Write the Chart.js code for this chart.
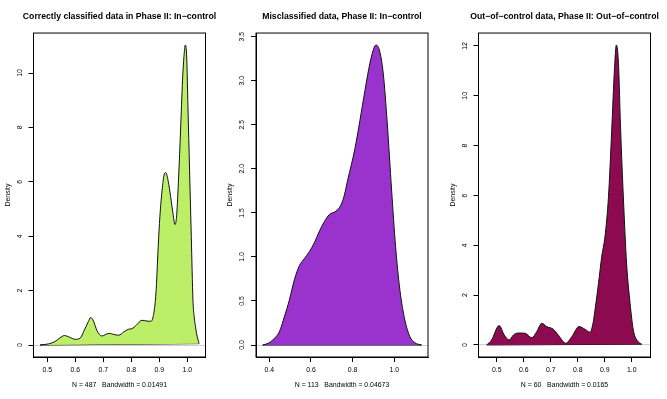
<!DOCTYPE html>
<html><head><meta charset="utf-8">
<script src="https://cdn.jsdelivr.net/npm/chart.js@4"></script>
<style>
html,body{margin:0;padding:0;background:#fff;width:667px;height:399px;overflow:hidden;position:relative}
canvas{position:absolute;top:0}
</style></head>
<body>
<canvas id="c1" width="239" height="399" style="left:0px"></canvas>
<canvas id="c2" width="240" height="399" style="left:222px"></canvas>
<canvas id="c3" width="239" height="399" style="left:445px"></canvas>
<script>
// ---- data ----
const TITLES = [
  "Correctly classified data in Phase II: In\u2212control",
  "Misclassified data, Phase II: In\u2212control",
  "Out\u2212of\u2212control data, Phase II: Out\u2212of\u2212control"
];
const SUBTITLES = [
  "N = 487   Bandwidth = 0.01491",
  "N = 113   Bandwidth = 0.04673",
  "N = 60   Bandwidth = 0.0165"
];
const Y_LABEL = "Density";

const P1_X = [0.474,0.504,0.527,0.545,0.561,0.579,0.599,0.617,0.632,0.646,0.655,0.665,0.677,0.695,0.707,0.721,0.737,0.755,0.773,0.790,0.802,0.818,0.838,0.856,0.870,0.879,0.886,0.890,0.896,0.902,0.910,0.917,0.923,0.930,0.938,0.948,0.956,0.962,0.969,0.976,0.983,0.988,0.993,0.998,1.0023,1.0081,1.0143,1.0202,1.0245,1.0286,1.0336,1.042];
const P1_D = [0.00,0.04,0.125,0.26,0.35,0.29,0.21,0.25,0.54,0.85,1.01,0.88,0.54,0.33,0.38,0.43,0.39,0.36,0.48,0.58,0.60,0.73,0.91,0.88,0.87,1.09,1.65,2.26,3.6,4.71,5.69,6.25,6.34,6.12,5.63,4.9,4.43,4.77,6.18,7.9,9.74,10.6,11.03,10.55,8.76,6.43,3.98,1.65,1.05,0.72,0.40,0.05];

const P2_X = [0.368,0.395,0.416,0.448,0.472,0.496,0.520,0.544,0.568,0.592,0.616,0.640,0.664,0.688,0.720,0.744,0.760,0.776,0.811,0.835,0.859,0.883,0.902,0.912,0.928,0.947,0.966,0.987,1.006,1.027,1.051,1.075,1.099,1.131];
const P2_D = [0.0,0.02,0.057,0.15,0.32,0.51,0.74,0.90,0.98,1.06,1.16,1.29,1.40,1.48,1.52,1.59,1.70,1.87,2.23,2.55,2.89,3.20,3.37,3.405,3.35,3.08,2.52,1.76,1.12,0.62,0.28,0.095,0.026,0.0];

const P3_X = [0.463,0.481,0.509,0.528,0.546,0.562,0.580,0.605,0.630,0.648,0.667,0.685,0.710,0.728,0.756,0.778,0.805,0.827,0.846,0.858,0.864,0.877,0.889,0.901,0.914,0.926,0.936,0.943,0.951,0.959,0.969,0.981,0.994,1.006,1.019,1.037];
const P3_D = [0.0,0.2,0.78,0.40,0.2,0.4,0.48,0.47,0.29,0.53,0.87,0.74,0.63,0.4,0.07,0.33,0.74,0.63,0.51,0.95,1.40,2.47,3.55,4.35,5.95,8.63,11.04,12.04,11.3,8.63,5.95,3.28,1.67,0.6,0.2,0.03];

const P1_XTICKS = [0.5,0.6,0.7,0.8,0.9,1.0];
const P1_YTICKS = [0,2,4,6,8,10];
const P2_XTICKS = [0.4,0.6,0.8,1.0];
const P2_YTICKS = [0,0.5,1.0,1.5,2.0,2.5,3.0,3.5];
const P3_XTICKS = [0.5,0.6,0.7,0.8,0.9,1.0];
const P3_YTICKS = [0,2,4,6,8,10,12];

const COLORS = ["#BCEE68", "#9A32CD", "#8B0A50"];

// ---- drawing ----
const FONT = "'Liberation Sans', Arial, Helvetica, sans-serif";
const H = 399, BOTTOM = 357, PLOT_W = 172;
const AX = 6.9;

const boxPlugin = {
  id: 'rbox',
  afterDraw(chart) {
    const a = chart.chartArea, ctx = chart.ctx;
    ctx.save();
    ctx.strokeStyle = '#000';
    ctx.lineWidth = 1;
    ctx.strokeRect(a.left, a.top, a.right - a.left, a.bottom - a.top);
    ctx.restore();
  }
};

function makeChart(id, xs, ds, xTicks, yTicks, xDec, yDec, title, sub, color, xMin, xMax, yMin, yMax, left, yPad) {
  const pts = xs.map((x, i) => ({x: x, y: ds[i]}));
  const closing = [pts[0], pts[pts.length - 1]];
  new Chart(document.getElementById(id), {
    type: 'line',
    data: { datasets: [
      { data: pts, borderColor: '#111', borderWidth: 1, backgroundColor: color, fill: '+1',
        pointRadius: 0, cubicInterpolationMode: 'monotone', yAxisID: 'y' },
      { data: closing, borderColor: '#111', borderWidth: 1, fill: false, pointRadius: 0, yAxisID: 'y' }
    ]},
    options: {
      responsive: false, animation: false, devicePixelRatio: 1,
      layout: { padding: 0 },
      plugins: {
        legend: { display: false }, tooltip: { enabled: false },
        title: { display: true, text: title, fullSize: true, color: '#000',
          font: { family: FONT, size: 8.7, weight: 'bold', lineHeight: 1.2 },
          padding: { top: 11.3, bottom: 11.3 } }
      },
      scales: {
        x: {
          type: 'linear', min: xMin, max: xMax,
          afterBuildTicks: s => { s.ticks = xTicks.map(v => ({value: v})); },
          afterFit: s => { s.height = H - BOTTOM; },
          ticks: { callback: v => Number(v).toFixed(xDec), autoSkip: false, maxRotation: 0,
            font: { family: FONT, size: AX }, color: '#000', padding: 3.5 },
          grid: { drawOnChartArea: false, drawTicks: true, tickLength: 5, color: '#000', tickColor: '#000', lineWidth: 1 },
          border: { display: true, color: '#000', width: 1 },
          title: { display: true, text: sub, color: '#000', font: { family: FONT, size: AX, lineHeight: 1.2 },
            padding: { top: 0, bottom: 9.9 } }
        },
        y: {
          type: 'linear', position: 'left', min: yMin, max: yMax,
          afterBuildTicks: s => { s.ticks = yTicks.map(v => ({value: v})); },
          afterFit: s => { s.width = left; },
          ticks: { callback: v => Number(v).toFixed(yDec), autoSkip: false, minRotation: 90, maxRotation: 90,
            crossAlign: 'center', font: { family: FONT, size: AX }, color: '#000', padding: yPad },
          grid: { drawOnChartArea: true, drawTicks: true, tickLength: 5, lineWidth: 1,
            color: c => (c.tick && c.tick.value === 0) ? '#cfcfcf' : 'rgba(0,0,0,0)', tickColor: '#000' },
          border: { display: true, color: '#000', width: 1 },
          title: { display: true, text: Y_LABEL, color: '#000', font: { family: FONT, size: AX, lineHeight: 1.2 },
            padding: { top: 3.9, bottom: 0 } }
        },
        yPad: {
          type: 'linear', position: 'right', display: true,
          afterFit: s => { s.width = left; },
          ticks: { display: false }, grid: { display: false, drawTicks: false }, border: { display: false }
        }
      }
    },
    plugins: [boxPlugin]
  });
}

makeChart('c1', P1_X, P1_D, P1_XTICKS, P1_YTICKS, 1, 0, TITLES[0], SUBTITLES[0], COLORS[0],
  0.4507, 1.065, -0.441, 11.47, 33.5, 4.7);
makeChart('c2', P2_X, P2_D, P2_XTICKS, P2_YTICKS, 1, 1, TITLES[1], SUBTITLES[1], COLORS[1],
  0.336, 1.1617, -0.136, 3.541, 34, 3.7);
makeChart('c3', P3_X, P3_D, P3_XTICKS, P3_YTICKS, 1, 0, TITLES[2], SUBTITLES[2], COLORS[2],
  0.4326, 1.0696, -0.482, 12.52, 33.5, 4.7);
</script>
</body></html>
